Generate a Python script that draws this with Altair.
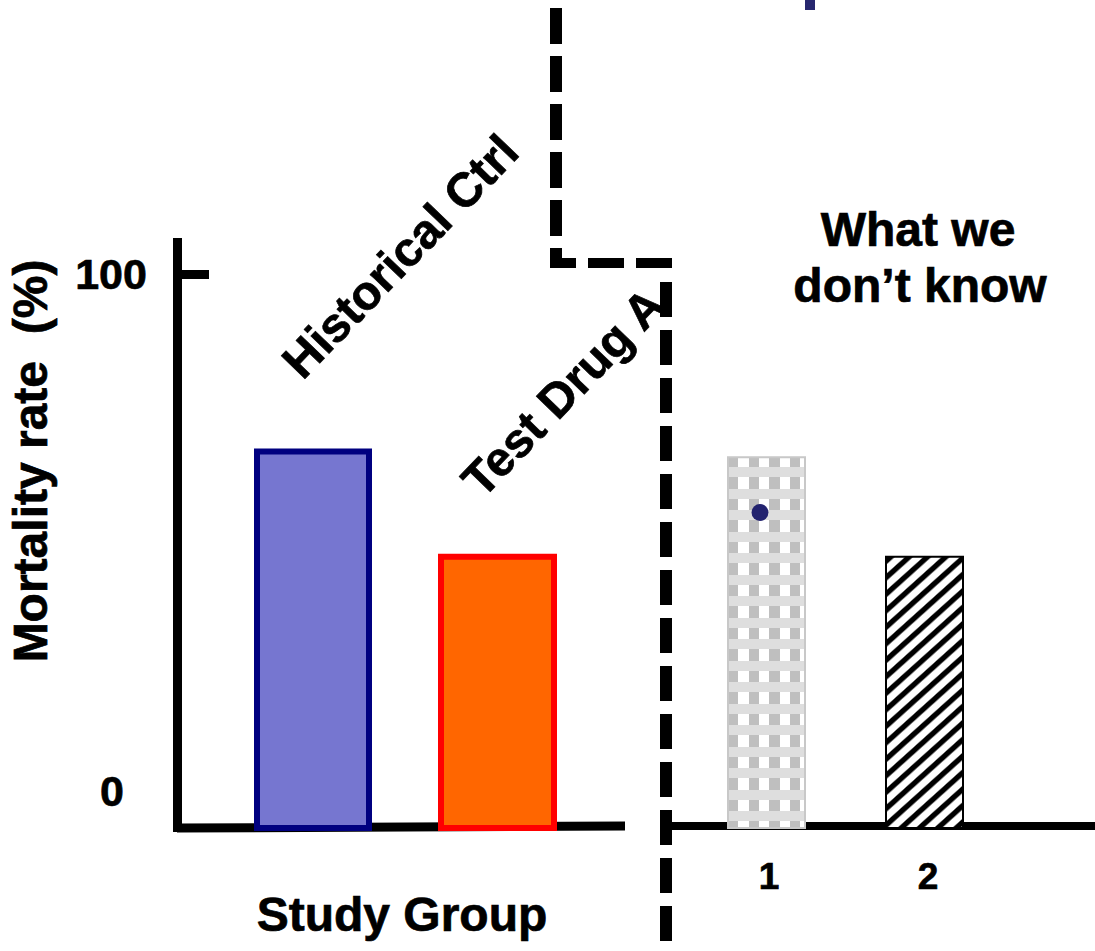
import altair as alt
import pandas as pd

# ---------------- values ----------------
study_groups = ["Historical Ctrl", "Test Drug A"]
study_mortality = [68, 49]            # mortality rate, %
unknown_groups = ["1", "2"]
unknown_mortality = [67, 49]          # mortality rate, %
marker_mortality = [57]               # single observation drawn inside group 1
axis_ticks = ["0", "100"]
y_title = "Mortality rate\u00a0 (%)"
x_title = "Study Group"
unknown_title = ["What we", "don\u2019t know"]

# ---------------- layout ----------------
W, H = 1095, 951
ZERO_PX, HUNDRED_PX = 828.0, 274.5
PX_PER_PCT = (ZERO_PX - HUNDRED_PX) / 100.0
FONT = "Liberation Sans"

x_scale = alt.Scale(domain=[0, W], nice=False, zero=False)
y_scale = alt.Scale(domain=[-(H - ZERO_PX) / PX_PER_PCT, ZERO_PX / PX_PER_PCT],
                    nice=False, zero=False)

LEFT_SLOTS = [(257, 369), (441, 554)]
RIGHT_SLOTS = [(728, 805), (886, 963)]

dummy = pd.DataFrame({"_": [0]})


def rule(x, y, x2=None, y2=None, width=9, color="black", dash=None):
    kw = dict(color=color, strokeWidth=width, strokeCap="butt")
    if dash:
        kw["strokeDash"] = dash
    enc = dict(x=alt.value(x), y=alt.value(y))
    if x2 is not None:
        enc["x2"] = alt.value(x2)
    if y2 is not None:
        enc["y2"] = alt.value(y2)
    return alt.Chart(dummy).mark_rule(**kw).encode(**enc)


def label(text, x, y, size, angle=0):
    return alt.Chart(pd.DataFrame({"t": [text]})).mark_text(
        font=FONT, fontWeight="bold", fontSize=size, angle=angle,
        align="center", baseline="middle", color="black",
        stroke="black", strokeWidth=0.7,
    ).encode(x=alt.value(x), y=alt.value(y), text="t:N")


def periodic_stops(length, period, pattern, phase=0.0):
    """Repeat a (fraction, colour) pattern along a gradient of `length` px."""
    stops = []
    k = -1
    while True:
        base = phase + k * period
        if base > length:
            break
        for frac, col in pattern:
            off = (base + frac * period) / length
            if 0 <= off <= 1:
                stops.append({"offset": round(off, 5), "color": col})
        k += 1
    return stops


def bar_frame(i):
    return pd.DataFrame({
        "group": [unknown_groups[i]],
        "mortality": [unknown_mortality[i]],
        "x0": [RIGHT_SLOTS[i][0]],
        "x1": [RIGHT_SLOTS[i][1]],
    })


def bar_enc():
    return dict(
        x=alt.X("x0:Q", scale=x_scale, axis=None),
        x2="x1:Q",
        y=alt.Y("mortality:Q", scale=y_scale, axis=None),
        y2=alt.datum(0),
    )


# ---------------- left panel: observed groups ----------------
left_df = pd.DataFrame({
    "group": study_groups,
    "mortality": study_mortality,
    "x0": [a for a, _ in LEFT_SLOTS],
    "x1": [b for _, b in LEFT_SLOTS],
})
left_bars = alt.Chart(left_df).mark_rect(strokeWidth=6).encode(
    **bar_enc(),
    fill=alt.Fill("group:N", scale=alt.Scale(domain=study_groups, range=["#7676D0", "#FF6600"]),
                  legend=None),
    stroke=alt.Stroke("group:N", scale=alt.Scale(domain=study_groups, range=["#000080", "#FF0000"]),
                      legend=None),
)

# ---------------- right panel: unknown groups ----------------
w1 = RIGHT_SLOTS[0][1] - RIGHT_SLOTS[0][0]
h1 = unknown_mortality[0] * PX_PER_PCT
columns_fill = {
    "gradient": "linear", "x1": 0, "y1": 0, "x2": 1, "y2": 0,
    "stops": periodic_stops(w1, 20.7, [(0, "#BFBFBF"), (0.5, "#BFBFBF"),
                                       (0.5, "#FFFFFF"), (1, "#FFFFFF")]),
}
bands_fill = {
    "gradient": "linear", "x1": 0, "y1": 0, "x2": 0, "y2": 1,
    "stops": periodic_stops(h1, 21.5, [(0, "#DEDEDE"), (0.48, "#DEDEDE"),
                                       (0.48, "rgba(255,255,255,0)"), (1, "rgba(255,255,255,0)")],
                            phase=10),
}
bar1_cols = alt.Chart(bar_frame(0)).mark_rect(fill=columns_fill).encode(**bar_enc())
bar1_bands = alt.Chart(bar_frame(0)).mark_rect(fill=bands_fill).encode(**bar_enc())
bar1_edge = alt.Chart(bar_frame(0)).mark_rect(fillOpacity=0, stroke="#C8C8C8", strokeWidth=2).encode(**bar_enc())

# diagonal hatch for group 2
w2 = RIGHT_SLOTS[1][1] - RIGHT_SLOTS[1][0]
h2 = unknown_mortality[1] * PX_PER_PCT
slope = 0.9
s = (slope * w2 + h2) / ((slope * w2) ** 2 + h2 ** 2)
hatch_fill = {
    "gradient": "linear", "x1": 0, "y1": 0,
    "x2": round(s * slope * w2, 5), "y2": round(s * h2, 5),
    "stops": periodic_stops(slope * w2 + h2, 16.5,
                            [(0, "#FFFFFF"), (0.1, "#000000"), (0.42, "#000000"),
                             (0.55, "#FFFFFF"), (1, "#FFFFFF")]),
}
bar2 = alt.Chart(bar_frame(1)).mark_rect(fill=hatch_fill, stroke="black", strokeWidth=2).encode(**bar_enc())

marker = alt.Chart(pd.DataFrame({
    "mortality": marker_mortality,
    "mx": [RIGHT_SLOTS[0][0] + 32],
})).mark_circle(size=285, color="#23236F", opacity=1).encode(
    x=alt.X("mx:Q", scale=x_scale, axis=None),
    y=alt.Y("mortality:Q", scale=y_scale, axis=None),
)

# ---------------- axes, separators, text ----------------
frame = [
    rule(177.5, 238, y2=832),                  # y axis
    rule(177, 274.5, x2=209),                  # 100 % tick
    rule(177, 828, x2=625, y2=826),            # left baseline
    rule(666, 826, x2=1095, width=8),          # right baseline
]
separator = [
    rule(556, 8, y2=268, width=12, dash=[36, 12]),
    rule(672, 263, x2=550, width=10, dash=[36, 12]),
    rule(666, 282, y2=951, width=12, dash=[35, 13]),
]
title_fragment = alt.Chart(dummy).mark_rect(color="#27276F").encode(
    x=alt.value(805), x2=alt.value(815), y=alt.value(0), y2=alt.value(10)
)

texts = [
    label(axis_ticks[1], 111, 276, 43),
    label(axis_ticks[0], 112, 793, 43),
    label(y_title, 33, 461, 48, angle=270),
    label(x_title, 402, 917, 48),
    label(study_groups[0], 402, 258, 48, angle=314),
    label(study_groups[1], 565, 394, 48, angle=314),
    label(unknown_title[0], 918, 232, 48),
    label(unknown_title[1], 920, 288, 48),
    label(unknown_groups[0], 769, 878, 37),
    label(unknown_groups[1], 928, 878, 37),
]

chart = alt.layer(
    *frame, left_bars, bar1_cols, bar1_bands, bar1_edge, bar2, marker,
    *separator, title_fragment, *texts,
).properties(
    width=W, height=H, padding=0,
    autosize=alt.AutoSizeParams(type="none"),
    background="white",
).configure_view(stroke=None)

chart.save("out.html", embed_options={"renderer": "svg", "actions": False})
